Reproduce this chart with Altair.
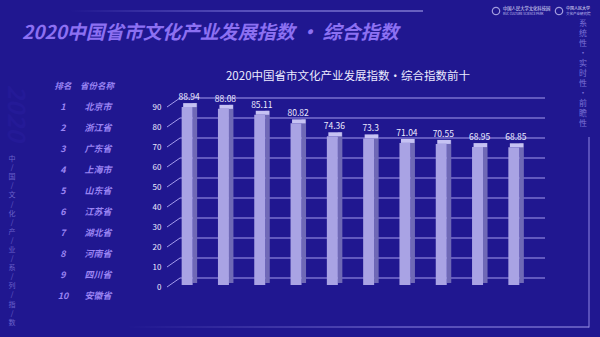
import altair as alt
import pandas as pd

# ---------------- data ----------------
provinces = ["北京市", "浙江省", "广东省", "上海市", "山东省", "江苏省", "湖北省", "河南省", "四川省", "安徽省"]
scores = [88.94, 88.08, 85.11, 80.82, 74.36, 73.3, 71.04, 70.55, 68.95, 68.85]
ranks = list(range(1, 11))
tick_values = [0, 10, 20, 30, 40, 50, 60, 70, 80, 90]

main_title = "2020中国省市文化产业发展指数 · 综合指数"
chart_title = "2020中国省市文化产业发展指数·综合指数前十"
left_series = "中/国/文/化/产/业/系/列/指/数"
right_series = "系统性·实时性·前瞻性"

bars = pd.DataFrame({"省份": provinces, "指数": scores, "标签": [str(s) for s in scores]})
table = pd.DataFrame({"排名": ranks, "名称": provinces, "排名文本": [str(r) for r in ranks]})
ticks = pd.DataFrame({"v": tick_values})
one = pd.DataFrame({"k": [0]})

# ---------------- style ----------------
BG = "#201790"
FONT = "Noto Sans CJK SC"
FRONT = "#a9a3e4"
SIDE = "#6f69b6"
TOP = "#c6c2f3"
GRID = "#a49ced"
TXT = "#ecebff"
PURPLE = "#9a84f3"

L, T, W, H = 168, 85, 363, 200

yscale = alt.Scale(domain=[0, 100], nice=False, zero=True)
xscale = alt.Scale(paddingInner=0, paddingOuter=0)
x_noaxis = alt.X("省份:N", sort=provinces, scale=xscale, axis=None)


def y_noaxis(field):
    return alt.Y(field, type="quantitative", scale=yscale, axis=None)


base = alt.Chart(bars)

grid = alt.Chart(ticks).mark_rule(color=GRID, strokeWidth=1, yOffset=-7).encode(
    y=y_noaxis("v"), x=alt.value(12), x2=alt.value(377)
)

diag = alt.Chart(ticks).transform_calculate(v2="datum.v + 4.5").mark_rule(
    color=GRID, strokeWidth=1, yOffset=2, y2Offset=2
).encode(
    y=y_noaxis("v"), y2="v2:Q", x=alt.value(-1), x2=alt.value(12)
)

side = base.mark_bar(width=4.5, xOffset=8.75, yOffset=-4, y2Offset=-2, color=SIDE).encode(
    x=x_noaxis, y=y_noaxis("指数"), y2=alt.datum(0)
)

top = base.mark_bar(width=13.5, xOffset=3.75, yOffset=-4, y2Offset=0, color=TOP).encode(
    x=x_noaxis, y=y_noaxis("指数"), y2="指数:Q"
)

front = base.mark_bar(width=11, xOffset=1, color=FRONT).encode(
    x=alt.X(
        "省份:N", sort=provinces, scale=xscale, title=None,
        axis=alt.Axis(labelAngle=0, labelColor=TXT, labelFontSize=9, labelFont=FONT,
                      labelPadding=3, domain=False, ticks=False, grid=False),
    ),
    y=alt.Y(
        "指数:Q", scale=yscale, title=None,
        axis=alt.Axis(values=tick_values, labelColor=TXT, labelFontSize=8, labelFont=FONT,
                      labelPadding=7, labelOffset=2, domain=False, ticks=False, grid=False),
    ),
    y2=alt.datum(0),
)

values = base.mark_text(dx=3, dy=-10, fontSize=8.5, color=TXT, font=FONT, baseline="middle").encode(
    x=x_noaxis, y=y_noaxis("指数"), text="标签:N"
)

ctitle = alt.Chart(one).mark_text(text=chart_title, fontSize=11.5, color=TXT, font=FONT,
                                  align="center", baseline="middle").encode(
    x=alt.value(180), y=alt.value(-8)
)

# ---------------- left ranking table ----------------
tscale = alt.Scale(domain=[0, 10], range=[1, 211])
rank_txt = alt.Chart(table).mark_text(fontSize=9, color=PURPLE, font=FONT, fontStyle="italic",
                                      fontWeight="bold", align="center", baseline="middle").encode(
    x=alt.value(-105), y=alt.Y("排名:Q", scale=tscale, axis=None), text="排名文本:N"
)
name_txt = alt.Chart(table).mark_text(fontSize=9, color=PURPLE, font=FONT, fontStyle="italic",
                                      fontWeight="bold", align="center", baseline="middle").encode(
    x=alt.value(-70), y=alt.Y("排名:Q", scale=tscale, axis=None), text="名称:N"
)
head1 = alt.Chart(one).mark_text(text="排名", fontSize=8.5, color=PURPLE, font=FONT, fontStyle="italic",
                                 fontWeight="bold", align="center", baseline="middle").encode(
    x=alt.value(-105), y=alt.value(1)
)
head2 = alt.Chart(one).mark_text(text="省份名称", fontSize=8.5, color=PURPLE, font=FONT, fontStyle="italic",
                                 fontWeight="bold", align="center", baseline="middle").encode(
    x=alt.value(-71), y=alt.value(1)
)

# ---------------- decoration ----------------
big_title = alt.Chart(one).mark_text(
    text=main_title, fontSize=19, fontWeight="bold", fontStyle="italic", font=FONT,
    color="#8c70f2", align="left", baseline="middle"
).encode(x=alt.value(-146), y=alt.value(-52))

faint2020 = alt.Chart(one).mark_text(
    text="2020", fontSize=24, fontWeight="bold", fontStyle="italic", font=FONT,
    color="#241a97", angle=90, align="center", baseline="middle"
).encode(x=alt.value(-153), y=alt.value(28))

left_vert = alt.Chart(one).mark_text(
    text="\n".join(list(left_series)), lineBreak="\n", lineHeight=9.1, fontSize=7,
    font=FONT, color="#6a61c9", align="center", baseline="top"
).encode(x=alt.value(-156), y=alt.value(70))

right_vert = alt.Chart(one).mark_text(
    text="\n".join(list(right_series)), lineBreak="\n", lineHeight=10, fontSize=8,
    font=FONT, color="#7b72d6", align="center", baseline="top"
).encode(x=alt.value(415), y=alt.value(-65))

top_line = alt.Chart(one).mark_rect(
    color=alt.Gradient(gradient="linear", x1=0, x2=1, y1=0, y2=0,
                       stops=[alt.GradientStop(color=BG, offset=0),
                              alt.GradientStop(color="#8e86e6", offset=0.5),
                              alt.GradientStop(color="#b0aaf0", offset=1)])
).encode(x=alt.value(-98), x2=alt.value(255), y=alt.value(-74.5), y2=alt.value(-73.5))

bottom_line = alt.Chart(one).mark_rect(
    color=alt.Gradient(gradient="linear", x1=0, x2=1, y1=0, y2=0,
                       stops=[alt.GradientStop(color=BG, offset=0),
                              alt.GradientStop(color="#8a82e0", offset=0.6),
                              alt.GradientStop(color="#9f98ea", offset=1)])
).encode(x=alt.value(-41), x2=alt.value(421), y=alt.value(241.5), y2=alt.value(242.5))

right_line = alt.Chart(one).mark_rect(color="#8f87e4").encode(
    x=alt.value(420.5), x2=alt.value(421.5), y=alt.value(52), y2=alt.value(242.5)
)

# small logos (top right)
logo1 = alt.Chart(one).mark_point(shape="circle", size=55, color="#d8d4ff", strokeWidth=1.2, filled=False).encode(
    x=alt.value(328), y=alt.value(-74)
)
logo1_t = alt.Chart(one).mark_text(text="中国人民大学文化科技园", fontSize=4.3, font=FONT, color="#e6e3ff",
                                   align="left", baseline="middle").encode(x=alt.value(335), y=alt.value(-76))
logo1_s = alt.Chart(one).mark_text(text="RUC CULTURE SCIENCE PARK", fontSize=3, font=FONT, color="#c9c4f5",
                                   align="left", baseline="middle").encode(x=alt.value(335), y=alt.value(-71.5))
logo2 = alt.Chart(one).mark_point(shape="circle", size=55, color="#d8d4ff", strokeWidth=1.2, filled=False).encode(
    x=alt.value(391), y=alt.value(-74)
)
logo2_t = alt.Chart(one).mark_text(text="中国人民大学", fontSize=4, font=FONT, color="#e6e3ff",
                                   align="left", baseline="middle").encode(x=alt.value(398), y=alt.value(-76.5))
logo2_s = alt.Chart(one).mark_text(text="文化产业研究院", fontSize=3.5, font=FONT, color="#c9c4f5",
                                   align="left", baseline="middle").encode(x=alt.value(398), y=alt.value(-71.5))

chart = alt.layer(
    top_line, bottom_line, right_line, faint2020, left_vert, right_vert, big_title,
    logo1, logo1_t, logo1_s, logo2, logo2_t, logo2_s,
    head1, head2, rank_txt, name_txt,
    grid, diag, side, top, front, values, ctitle,
).resolve_scale(y="independent").properties(
    width=W, height=H, background=BG, autosize="none",
    padding={"left": L, "top": T, "right": 600 - L - W, "bottom": 337 - T - H},
).configure_view(stroke=None).configure_text(font=FONT)

chart.save("out.html", embed_options={"renderer": "svg", "actions": False})
